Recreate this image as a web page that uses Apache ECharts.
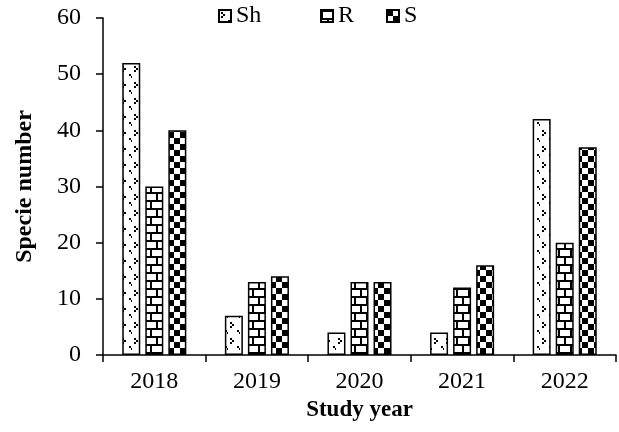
<!DOCTYPE html>
<html>
<head>
<meta charset="utf-8">
<script src="https://cdn.jsdelivr.net/npm/echarts@6/dist/echarts.min.js"></script>
<style>
  html, body { margin: 0; padding: 0; background: #fff; }
  #chart { width: 619px; height: 432px; }
</style>
</head>
<body>
<div id="chart"></div>
<script>
  var years = ['2018', '2019', '2020', '2021', '2022'];
  var shValues = [52, 7, 4, 4, 42];
  var rValues = [30, 13, 13, 12, 20];
  var sValues = [40, 14, 13, 16, 37];
  var yTicks = [0, 10, 20, 30, 40, 50, 60];

  // 点状填充
  function dotPattern() {
    var c = document.createElement('canvas');
    c.width = 12; c.height = 16;
    var ctx = c.getContext('2d');
    ctx.fillStyle = '#fff';
    ctx.fillRect(0, 0, 12, 16);
    ctx.fillStyle = '#000';
    ctx.fillRect(2, 2, 2, 2);
    ctx.fillRect(4, 4, 2, 2);
    ctx.fillRect(2, 6, 2, 2);
    ctx.fillRect(9, 10, 2, 2);
    ctx.fillRect(11, 12, 1, 2);
    return c;
  }
  // 砖块填充
  function brickPattern() {
    var c = document.createElement('canvas');
    c.width = 12; c.height = 16;
    var ctx = c.getContext('2d');
    ctx.fillStyle = '#fff';
    ctx.fillRect(0, 0, 12, 16);
    ctx.fillStyle = '#000';
    ctx.fillRect(0, 0, 12, 2);
    ctx.fillRect(0, 8, 12, 2);
    ctx.fillRect(0, 0, 2, 8);
    ctx.fillRect(6, 8, 2, 8);
    return c;
  }
  // 棋盘填充
  function checkPattern() {
    var c = document.createElement('canvas');
    c.width = 12; c.height = 12;
    var ctx = c.getContext('2d');
    ctx.fillStyle = '#fff';
    ctx.fillRect(0, 0, 12, 12);
    ctx.fillStyle = '#000';
    ctx.fillRect(0, 0, 6, 6);
    ctx.fillRect(6, 6, 6, 6);
    return c;
  }

  var chart = echarts.init(document.getElementById('chart'));
  var font = 'Liberation Serif, Times New Roman, serif';
  var legendText = { fontFamily: font, fontSize: 24, color: '#000' };
  var legendBase = { top: -1, itemWidth: 12, itemHeight: 12, textStyle: legendText };
  var option = {
    animation: false,
    textStyle: { fontFamily: font },
    legend: [
      Object.assign({ left: 213, data: [{ name: 'Sh', icon: 'rect' }] }, legendBase),
      Object.assign({ left: 315, data: [{ name: 'R', icon: 'rect' }] }, legendBase),
      Object.assign({ left: 381, data: [{ name: 'S', icon: 'rect' }] }, legendBase)
    ],
    grid: {
      left: 103,
      right: 3,
      top: 18,
      bottom: 77
    },
    xAxis: {
      type: 'category',
      data: years,
      name: 'Study year',
      nameLocation: 'middle',
      nameGap: 44,
      nameTextStyle: { fontFamily: font, fontSize: 23, fontWeight: 'bold', color: '#000' },
      axisLine: { lineStyle: { color: '#000', width: 1.5 } },
      axisTick: { show: true, length: 7, lineStyle: { color: '#000', width: 1.5 } },
      axisLabel: { fontFamily: font, fontSize: 24, color: '#000', margin: 15 }
    },
    yAxis: {
      type: 'value',
      min: 0,
      max: 60,
      interval: 10,
      name: 'Specie number',
      nameLocation: 'middle',
      nameGap: 66,
      nameTextStyle: { fontFamily: font, fontSize: 24, fontWeight: 'bold', color: '#000' },
      axisLine: { show: true, lineStyle: { color: '#000', width: 1.5 } },
      axisTick: { show: true, length: 7, lineStyle: { color: '#000', width: 1.5 } },
      axisLabel: {
        fontFamily: font, fontSize: 24, color: '#000', margin: 22,
        formatter: function (v) { return yTicks.indexOf(v) >= 0 ? String(v) : ''; }
      },
      splitLine: { show: false }
    },
    series: [{
      name: 'Sh',
      type: 'bar',
      data: shValues,
      barWidth: 18,
      barGap: '28%',
      itemStyle: {
        color: { image: dotPattern(), repeat: 'repeat' },
        borderColor: '#000',
        borderWidth: 1.5
      }
    }, {
      name: 'R',
      type: 'bar',
      data: rValues,
      barWidth: 18,
      barGap: '28%',
      itemStyle: {
        color: { image: brickPattern(), repeat: 'repeat' },
        borderColor: '#000',
        borderWidth: 1.5
      }
    }, {
      name: 'S',
      type: 'bar',
      data: sValues,
      barWidth: 18,
      barGap: '28%',
      itemStyle: {
        color: { image: checkPattern(), repeat: 'repeat' },
        borderColor: '#000',
        borderWidth: 1.5
      }
    }]
  };
  chart.clear()
  chart.setOption(option)
</script>
</body>
</html>
